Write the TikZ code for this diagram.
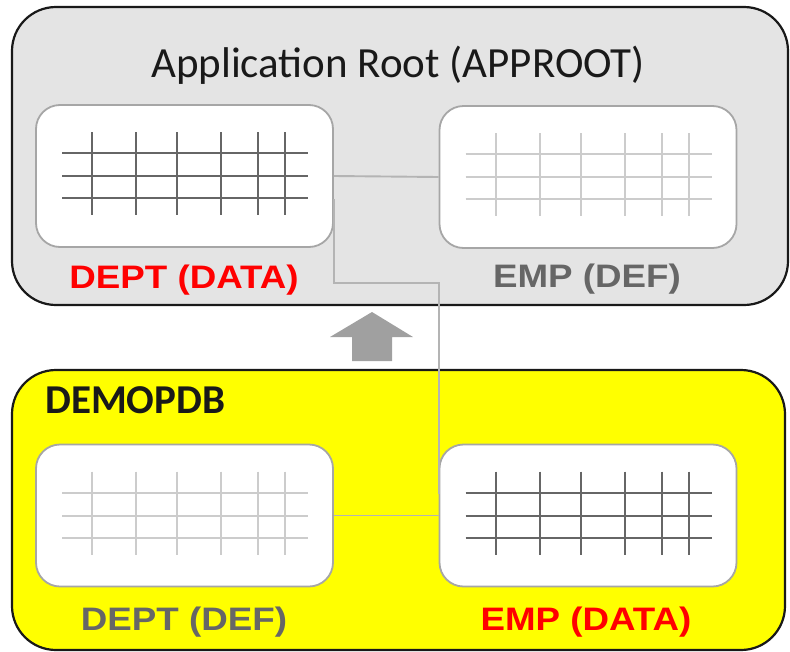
\documentclass[tikz,border=0pt]{standalone}
\usepackage{fontspec}
\newfontfamily\calfont{Carlito}
\newfontfamily\arialwide[FakeStretch=1.13]{Liberation Sans}
\definecolor{panelgray}{HTML}{E4E4E4}
\definecolor{panelyellow}{RGB}{255,255,0}
\definecolor{gridDark}{HTML}{666666}
\definecolor{gridLight}{HTML}{CCCCCC}
\definecolor{boxEdge}{HTML}{A6A6A6}
\definecolor{linkGray}{HTML}{B4B4B4}
\definecolor{labelGray}{HTML}{666666}
\definecolor{arrowGray}{HTML}{A0A0A0}
\tikzset{
  container/.style={draw=black!90, line width=2.2pt, rounded corners=44pt, inner sep=0pt},
  tablebox/.style={draw=boxEdge, fill=white, line width=1.8pt, rounded corners=24pt,
    minimum width=297pt, minimum height=142pt, inner sep=0pt},
  tablelabel/.style={font=\arialwide\bfseries\fontsize{32.5}{32.5}\selectfont, anchor=base, inner sep=0pt},
  link/.style={draw=linkGray, line width=1.9pt},
  gridline/.style={line width=2pt}
}
% table grid drawn inside a box, offsets measured from its north west corner
\newcommand{\tablegrid}[2]{%
  \begin{scope}[shift={(#1.north west)}]
    \foreach \gy in {49,72,94} \draw[gridline,#2] (27,\gy) -- (273,\gy);
    \foreach \gx in {57,101,142,186,223,250} \draw[gridline,#2] (\gx,28) -- (\gx,111);
  \end{scope}}
\begin{document}
\begin{tikzpicture}[x=1pt,y=-1pt]
\useasboundingbox (0,0) rectangle (790,651);

% containers
\node[container, fill=panelgray, minimum width=776pt, minimum height=298pt] (approot) at (400,156) {};
\node[container, fill=panelyellow, minimum width=773pt, minimum height=280pt] (pdb) at (398.5,510) {};

\node[font=\calfont\fontsize{43}{43}\selectfont, text=black!90, anchor=base, inner sep=0pt] (roottitle) at (398,77) {Application Root (APPROOT)};
\node[font=\calfont\bfseries\fontsize{41}{41}\selectfont, text=black!90, anchor=base west, inner sep=0pt] (pdbtitle) at (45,413) {DEMOPDB};

% tables
\node[tablebox] (dtop) at (184.5,176) {};
\node[tablebox] (etop) at (588,177) {};
\node[tablebox] (dbot) at (184.5,515.5) {};
\node[tablebox] (ebot) at (588,515.5) {};

\tablegrid{dtop}{gridDark}
\tablegrid{etop}{gridLight}
\tablegrid{dbot}{gridLight}
\tablegrid{ebot}{gridDark}

% labels
\node[tablelabel, text=red] (ldtop) at (184,288) {DEPT (DATA)};
\node[tablelabel, text=labelGray] (letop) at (587,287) {EMP (DEF)};
\node[tablelabel, text=labelGray] (ldbot) at (184,630) {DEPT (DEF)};
\node[tablelabel, text=red] (lebot) at (586,630) {EMP (DATA)};

% links between tables
\draw[link] (dtop.east) -- (etop.west);
\draw[link] (dbot.east) -- (ebot.west);
\coordinate (linkstart) at ([yshift=-23pt]dtop.east);
\coordinate (linkend) at ([yshift=22pt]ebot.west);
\coordinate (linkturn) at (0,283);
\draw[link] (linkstart) -- (linkstart |- linkturn) -- (linkend |- linkturn) -- (linkend);

% inheritance arrow
\fill[arrowGray] (372,312) -- (413,337) -- (392,337) -- (392,361) -- (352,361) -- (352,337) -- (330,337) -- cycle;
\end{tikzpicture}
\end{document}
